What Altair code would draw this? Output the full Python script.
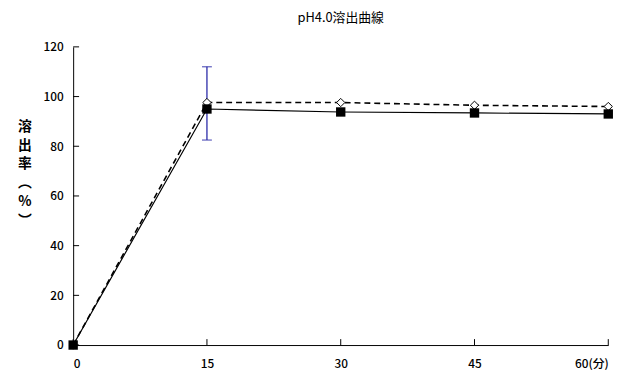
import altair as alt
import pandas as pd

times = [0, 15, 30, 45, 60]
solid_vals = [0, 95.0, 93.8, 93.4, 93.0]
dashed_vals = [0, 97.6, 97.6, 96.5, 96.0]
err_time = [15]
err_low = [82.5]
err_high = [112.0]
x_ticks = [0, 15, 30, 45, 60]
y_ticks = [0, 20, 40, 60, 80, 100, 120]
y_title = "溶\n出\n率\n︵\n%\n︶"

df_s = pd.DataFrame({"t": times, "v": solid_vals})
df_d = pd.DataFrame({"t": times, "v": dashed_vals})
df_e = pd.DataFrame({"t": err_time, "lo": err_low, "hi": err_high})
df_xt = pd.DataFrame({"t": x_ticks})
df_yt = pd.DataFrame({"v": y_ticks})
df_title = pd.DataFrame({"s": [y_title]})

FONT = "Noto Sans CJK JP"
W, H = 542, 302

xs = alt.Scale(domain=[0, 60], nice=False, zero=False)
ys = alt.Scale(domain=[0, 120], nice=False)

x_axis = alt.Axis(values=x_ticks, grid=False, ticks=False, domainColor="black",
                  labelColor="black", labelFontSize=12, labelPadding=14, labelFont=FONT,
                  labelFontWeight=500,
                  labelExpr="datum.value == 60 ? '60(分)' : datum.label", title=None)
y_axis = alt.Axis(values=y_ticks, grid=False, ticks=False, domainColor="black",
                  labelColor="black", labelFontSize=12, labelPadding=10, labelFont=FONT,
                  labelFontWeight=500, title=None)

line_s = alt.Chart(df_s).mark_line(color="black", strokeWidth=1.2).encode(
    x=alt.X("t:Q", scale=xs, axis=x_axis), y=alt.Y("v:Q", scale=ys, axis=y_axis))
line_d = alt.Chart(df_d).mark_line(color="black", strokeWidth=1.6, strokeDash=[6, 4]).encode(
    x=alt.X("t:Q", scale=xs, title=None), y=alt.Y("v:Q", scale=ys, title=None))
err = alt.Chart(df_e).mark_errorbar(ticks=alt.MarkConfig(size=10), color="#2a2aa8", thickness=1.3).encode(
    x=alt.X("t:Q", scale=xs, title=None), y=alt.Y("lo:Q", scale=ys, title=None), y2="hi:Q")
pts_s = alt.Chart(df_s).mark_point(shape="square", filled=True, color="black", size=90, opacity=1).encode(
    x=alt.X("t:Q", scale=xs, title=None), y=alt.Y("v:Q", scale=ys, title=None))
pts_d = alt.Chart(df_d).mark_point(shape="diamond", filled=True, fill="white", stroke="black",
                                   strokeWidth=1, size=70, opacity=1).encode(
    x=alt.X("t:Q", scale=xs, title=None), y=alt.Y("v:Q", scale=ys, title=None))
xt = alt.Chart(df_xt).mark_rule(color="black").encode(
    x=alt.X("t:Q", scale=xs, title=None), y=alt.value(H), y2=alt.value(H - 6))
yt = alt.Chart(df_yt).mark_rule(color="black").encode(
    y=alt.Y("v:Q", scale=ys, title=None), x=alt.value(0), x2=alt.value(6))
ytitle = alt.Chart(df_title).mark_text(
    font=FONT, fontSize=14, fontWeight="bold", color="black", lineBreak="\n", lineHeight=19,
    align="center", baseline="top").encode(
    text="s:N", x=alt.value(-49), y=alt.value(74))

chart = alt.layer(line_s, line_d, err, pts_d, pts_s, xt, yt, ytitle).properties(
    width=W, height=H,
    title=alt.TitleParams("pH4.0溶出曲線", fontSize=13, fontWeight="normal", font=FONT,
                          color="black", offset=16),
    autosize=alt.AutoSizeParams(type="none"),
    padding={"left": 66, "top": 37, "right": 22, "bottom": 30},
).configure_view(stroke=None).configure_axis(domainWidth=1)

chart.save("out.html", embed_options={"renderer": "svg", "actions": False})
